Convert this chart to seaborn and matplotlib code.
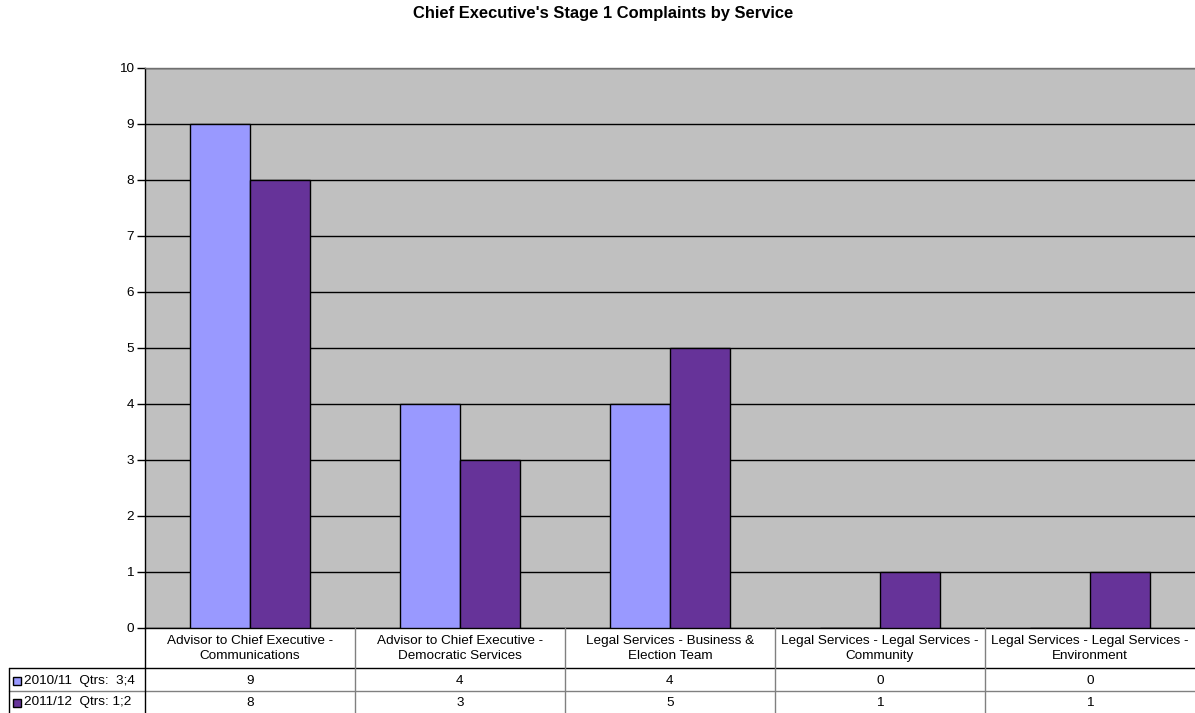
import matplotlib
matplotlib.use("Agg")
import matplotlib.pyplot as plt
import pandas as pd
import seaborn as sns
from matplotlib.lines import Line2D
from matplotlib.patches import Rectangle

# chart data
services = [
    "Advisor to Chief Executive -\nCommunications",
    "Advisor to Chief Executive -\nDemocratic Services",
    "Legal Services - Business &\nElection Team",
    "Legal Services - Legal Services -\nCommunity",
    "Legal Services - Legal Services -\nEnvironment",
]
periods = ["2010/11  Qtrs:  3;4", "2011/12  Qtrs: 1;2"]
counts_1011 = [9, 4, 4, 0, 0]
counts_1112 = [8, 3, 5, 1, 1]
colors = ["#9999FF", "#663399"]

df = pd.DataFrame({
    "service": services * 2,
    "period": [periods[0]] * 5 + [periods[1]] * 5,
    "count": counts_1011 + counts_1112,
})

sns.set_style("white")
plt.rcParams["font.family"] = ["Liberation Sans", "DejaVu Sans"]
plt.rcParams["text.color"] = "black"
plt.rcParams["ytick.color"] = "black"
plt.rcParams["ytick.labelcolor"] = "black"

W, H = 1195, 713
fs = 9.7
fig = plt.figure(figsize=(W / 100, H / 100), dpi=100)

# plot area in pixels
x0, x1 = 145, 1195
y_top, y_bot = 68, 628


def fx(px):
    return px / W


def fy(py):
    return 1 - py / H


ax = fig.add_axes([fx(x0), fy(y_bot), fx(x1 - x0), (y_bot - y_top) / H])
ax.set_facecolor("#C0C0C0")

sns.barplot(
    data=df, x="service", y="count", hue="period", order=services,
    hue_order=periods, palette=colors, width=2 / 3.5, edgecolor="black",
    linewidth=1, saturation=1, legend=False, ax=ax, zorder=3,
)

ax.set_xlim(-0.5, len(services) - 0.5)
ax.set_ylim(0, 10)
ax.set_yticks(range(0, 11))
ax.yaxis.grid(True, color="black", linewidth=1, zorder=0)
ax.set_axisbelow(True)
ax.set_xticks([])
ax.set_xlabel("")
ax.set_ylabel("")
ax.tick_params(axis="y", direction="out", length=6, width=1, color="black",
               labelcolor="black", labelsize=fs, pad=2, left=True)
ax.spines["right"].set_visible(False)
ax.spines["top"].set_color("#707070")
ax.spines["left"].set_color("black")
ax.spines["bottom"].set_color("black")
for sp in ax.spines.values():
    sp.set_linewidth(1)

fig.suptitle("Chief Executive's Stage 1 Complaints by Service",
             x=fx(603), y=fy(6), fontsize=11.9, fontweight="bold", va="top",
             color="black")

# data table below the plot
col_w = (x1 - x0) / len(services)
row_h_top, row1, row2, row_end = 628, 668, 691, 714

lines = [
    ((9, W), (row1, row1), "black"),
    ((9, W), (row2, row2), "#808080"),
    ((9, 9), (row1, row_end), "black"),
    ((x0, x0), (row_h_top, row_end), "black"),
]
for k in range(1, len(services)):
    xk = x0 + k * col_w
    lines.append(((xk, xk), (row_h_top, row_end), "#808080"))
for xs, ys, c in lines:
    fig.add_artist(Line2D([fx(v) for v in xs], [fy(v) for v in ys],
                          color=c, linewidth=1))

ys_rows = [(row1 + row2) / 2 + 1.5, (row2 + row_end) / 2]
for i, name in enumerate(services):
    cx = x0 + (i + 0.5) * col_w
    fig.text(fx(cx), fy((row_h_top + row1) / 2 + 0.5), name, ha="center",
             va="center", fontsize=fs, linespacing=1.35)
    fig.text(fx(cx), fy(ys_rows[0]), str(counts_1011[i]),
             ha="center", va="center", fontsize=fs)
    fig.text(fx(cx), fy(ys_rows[1]), str(counts_1112[i]),
             ha="center", va="center", fontsize=fs)

for label, c, yc in zip(periods, colors, ys_rows):
    fig.add_artist(Rectangle((fx(13), fy(yc + 4)), fx(8), 8 / H,
                             facecolor=c, edgecolor="black", linewidth=1))
    fig.text(fx(24), fy(yc), label, ha="left", va="center", fontsize=fs)

fig.savefig("out.png", dpi=100)
